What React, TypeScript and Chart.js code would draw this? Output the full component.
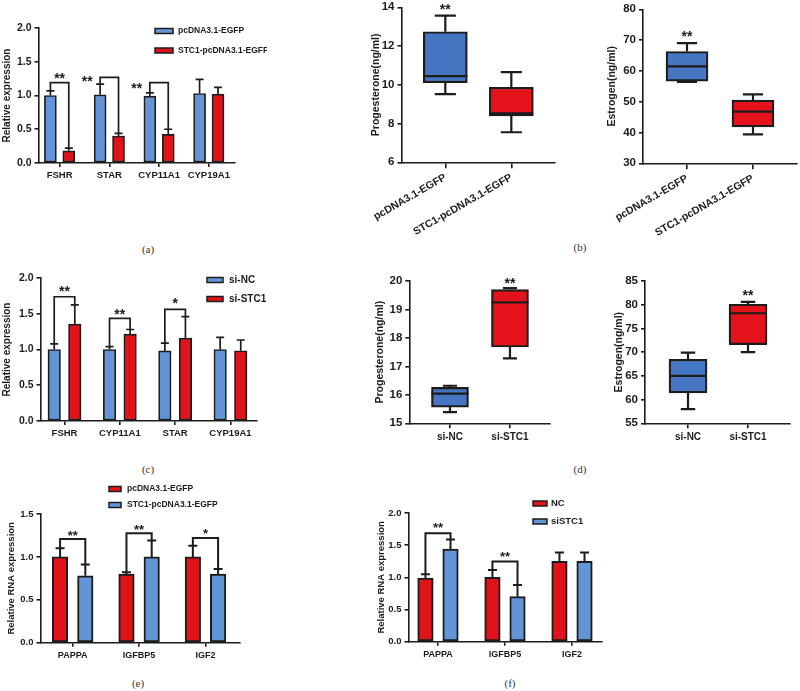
import React, { useEffect, useMemo, useRef } from "react";
import { Chart, registerables } from "chart.js";

Chart.register(...registerables);

/* ---------------- data ---------------- */

// (a) qPCR after STC1 overexpression
const aGenes = ["FSHR", "STAR", "CYP11A1", "CYP19A1"];
const aGroups = ["pcDNA3.1-EGFP", "STC1-pcDNA3.1-EGFP"];
const aControlMean = [1.0, 1.01, 0.99, 1.03];
const aControlErr = [0.07, 0.16, 0.05, 0.21];
const aStc1Mean = [0.18, 0.4, 0.425, 1.02];
const aStc1Err = [0.04, 0.04, 0.075, 0.1];
const aYTicks = [0, 0.5, 1.0, 1.5, 2.0];
const aSig = [
  { cat: 0, level: 1.19, text: "**", tx: 0, ty: 1.3 },
  { cat: 1, level: 1.27, text: "**", tx: -0.444, ty: 1.255 },
  { cat: 2, level: 1.19, text: "**", tx: -0.45, ty: 1.156 },
];

// (b) hormone levels after STC1 overexpression (box plots)
const bGroups = ["pcDNA3.1-EGFP", "STC1-pcDNA3.1-EGFP"];
const bProgMin = [9.52, 7.55];
const bProgQ1 = [10.11, 8.39];
const bProgMedian = [10.45, 8.53];
const bProgQ3 = [12.74, 9.87];
const bProgMax = [13.57, 10.65];
const bProgTicks = [6, 8, 10, 12, 14];
const bProgStars = [{ cat: 1, text: "**", ty: 14.05 }];
const bEstMin = [56.4, 39.4];
const bEstQ1 = [56.7, 41.8];
const bEstMedian = [61.5, 46.8];
const bEstQ3 = [66.3, 50.5];
const bEstMax = [69.0, 52.4];
const bEstTicks = [30, 40, 50, 60, 70, 80];
const bEstStars = [{ cat: 1, text: "**", ty: 72.5 }];

// (c) qPCR after STC1 knockdown
const cGenes = ["FSHR", "CYP11A1", "STAR", "CYP19A1"];
const cGroups = ["si-NC", "si-STC1"];
const cNcMean = [1.0, 1.0, 0.98, 1.0];
const cNcErr = [0.08, 0.04, 0.11, 0.17];
const cSiMean = [1.355, 1.215, 1.16, 0.983];
const cSiErr = [0.27, 0.065, 0.3, 0.15];
const cYTicks = [0, 0.5, 1.0, 1.5, 2.0];
const cSig = [
  { cat: 0, level: 1.738, text: "**", tx: 0, ty: 1.855 },
  { cat: 1, level: 1.436, text: "**", tx: 0, ty: 1.538 },
  { cat: 2, level: 1.562, text: "*", tx: 0, ty: 1.69 },
];

// (d) hormone levels after STC1 knockdown (box plots)
const dGroups = ["si-NC", "si-STC1"];
const dProgMin = [15.39, 17.28];
const dProgQ1 = [15.57, 17.68];
const dProgMedian = [16.04, 19.25];
const dProgQ3 = [16.26, 19.7];
const dProgMax = [16.32, 19.75];
const dProgTicks = [15, 16, 17, 18, 19, 20];
const dProgStars = [{ cat: 2, text: "**", ty: 20.05 }];
const dEstMin = [58.0, 70.0];
const dEstQ1 = [61.4, 71.6];
const dEstMedian = [65.0, 78.2];
const dEstQ3 = [68.5, 80.1];
const dEstMax = [69.9, 80.6];
const dEstTicks = [55, 60, 65, 70, 75, 80, 85];
const dEstStars = [{ cat: 2, text: "**", ty: 82.8 }];

// (e) IGF axis genes after STC1 overexpression
const eGenes = ["PAPPA", "IGFBP5", "IGF2"];
const eGroups = ["pcDNA3.1-EGFP", "STC1-pcDNA3.1-EGFP"];
const eControlMean = [1.0, 0.8, 1.0];
const eControlErr = [0.1, 0.02, 0.13];
const eStc1Mean = [0.78, 1.0, 0.8];
const eStc1Err = [0.13, 0.19, 0.06];
const eYTicks = [0, 0.5, 1.0, 1.5];
const eSig = [
  { cat: 0, level: 1.21, text: "**", tx: 0, ty: 1.29 },
  { cat: 1, level: 1.275, text: "**", tx: 0, ty: 1.36 },
  { cat: 2, level: 1.22, text: "*", tx: 0, ty: 1.31 },
];

// (f) IGF axis genes after STC1 knockdown
const fGenes = ["PAPPA", "IGFBP5", "IGF2"];
const fGroups = ["NC", "siSTC1"];
const fNcMean = [0.99, 1.0, 1.25];
const fNcErr = [0.06, 0.115, 0.135];
const fSiMean = [1.44, 0.7, 1.25];
const fSiErr = [0.15, 0.18, 0.135];
const fYTicks = [0, 0.5, 1.0, 1.5, 2.0];
const fSig = [
  { cat: 0, level: 1.685, text: "**", tx: 0, ty: 1.815 },
  { cat: 1, level: 1.245, text: "**", tx: 0, ty: 1.375 },
];

/* ---------------- styles ---------------- */

const FONT = "'Liberation Sans', Arial, Helvetica, sans-serif";
const SERIF = "'Liberation Serif', 'Times New Roman', serif";
const INK = "#1c1c1c";
const LIGHT_BLUE = "#6394d6";
const RED = "#e0131b";
const BOX_BLUE = "#4676c2";
const BOX_RED = "#e3121b";

type Geo = {
  titleX: number; axisX: number; top: number; bottom: number; right: number;
  xh: number; titleSize: number; padTop: number; padRight: number;
};
type Frame = {
  L: number; T: number; W: number; H: number; padLeft: number; padTop: number;
  padRight: number; yw: number; xh: number;
};

function makeFrame(g: Geo): Frame {
  const lh = g.titleSize * 1.2;
  const left = g.titleX - lh / 2;
  const L = Math.floor(left - 1);
  const T = Math.floor(g.top - g.padTop);
  const W = Math.ceil(g.right + g.padRight - L);
  const H = Math.ceil(g.bottom + g.xh - T);
  return {
    L, T, W, H,
    padLeft: left - L,
    padTop: g.top - T,
    padRight: L + W - g.right,
    yw: g.axisX - left,
    xh: T + H - g.bottom,
  };
}

const bold = (size: number) => ({ family: FONT, size, weight: "bold" as const });

function zeroPad(s: any) {
  s.paddingLeft = 0; s.paddingRight = 0; s.paddingTop = 0; s.paddingBottom = 0;
}

function baseOptions(
  f: Frame, g: Geo,
  y: { ticks: number[]; title: string; size: number; decimals: number },
  x: { min: number; max: number; positions: number[]; labels: string[]; size: number; rotation: number; tickLength: number }
) {
  return {
    responsive: false,
    animation: false,
    devicePixelRatio: 1,
    layout: { padding: { left: f.padLeft, top: f.padTop, right: f.padRight, bottom: 0 } },
    plugins: { legend: { display: false }, tooltip: { enabled: false }, title: { display: false } },
    scales: {
      x: {
        type: "linear", min: x.min, max: x.max, offset: false, bounds: "data",
        afterBuildTicks: (s: any) => { s.ticks = x.positions.map((v) => ({ value: v })); },
        ticks: {
          autoSkip: false, minRotation: x.rotation, maxRotation: x.rotation, padding: 3, color: INK,
          font: bold(x.size),
          callback: (_v: any, i: number) => x.labels[i],
        },
        grid: { drawOnChartArea: false, drawTicks: true, tickLength: x.tickLength, color: INK, lineWidth: 1.6, offset: false },
        border: { display: true, color: INK, width: 1.6 },
        afterFit: (s: any) => { s.height = f.xh; zeroPad(s); },
      },
      y: {
        type: "linear", min: y.ticks[0], max: y.ticks[y.ticks.length - 1],
        afterBuildTicks: (s: any) => { s.ticks = y.ticks.map((v) => ({ value: v })); },
        ticks: { padding: 3, color: INK, font: bold(y.size), callback: (v: any) => Number(v).toFixed(y.decimals) },
        grid: { drawOnChartArea: false, drawTicks: true, tickLength: 4, color: INK, lineWidth: 1.6 },
        border: { display: true, color: INK, width: 1.6 },
        title: { display: true, text: y.title, color: INK, font: bold(g.titleSize), padding: 0 },
        afterFit: (s: any) => { s.width = f.yw; zeroPad(s); },
      },
    },
  };
}

type Sig = { cat: number; level: number; text: string; tx: number; ty: number };
type BarSpec = {
  cats: string[]; names: string[]; means: number[][]; errs: number[][]; colors: string[];
  yTicks: number[]; yTitle: string; sig: Sig[];
  geo: Geo; xMin: number; xMax: number; offsets: number[]; barW: number; capW: number; line: number;
  font: { tick: number; cat: number; legend: number; star: number };
  legend: { x: number; w: number; h: number; rows: number[]; textX: number };
};

function drawStar(ctx: any, text: string, x: number, y: number, size: number) {
  ctx.fillStyle = INK;
  ctx.font = `bold ${size}px ${FONT}`;
  ctx.textAlign = "center";
  ctx.textBaseline = "alphabetic";
  ctx.fillText(text, x, y + 0.58 * size);
}

function buildBar(p: BarSpec) {
  const f = makeFrame(p.geo);
  const plugin = {
    id: "barExtras",
    afterDatasetsDraw(chart: any) {
      const ctx = chart.ctx;
      const xs = chart.scales.x;
      const ys = chart.scales.y;
      const px = (si: number, i: number) => xs.getPixelForValue(i + p.offsets[si]);
      const top = (si: number, i: number) => ys.getPixelForValue(p.means[si][i] + p.errs[si][i]);
      ctx.save();
      ctx.strokeStyle = INK;
      ctx.lineWidth = p.line;
      p.means.forEach((m, si) =>
        m.forEach((v, i) => {
          const x = px(si, i);
          const y0 = ys.getPixelForValue(v);
          const y1 = top(si, i);
          ctx.beginPath();
          ctx.moveTo(x, y0); ctx.lineTo(x, y1);
          ctx.moveTo(x - p.capW / 2, y1); ctx.lineTo(x + p.capW / 2, y1);
          ctx.stroke();
        })
      );
      p.sig.forEach((s) => {
        const x1 = px(0, s.cat);
        const x2 = px(1, s.cat);
        const yl = ys.getPixelForValue(s.level);
        ctx.beginPath();
        ctx.moveTo(x1, top(0, s.cat)); ctx.lineTo(x1, yl); ctx.lineTo(x2, yl); ctx.lineTo(x2, top(1, s.cat));
        ctx.stroke();
        drawStar(ctx, s.text, xs.getPixelForValue(s.cat + s.tx), ys.getPixelForValue(s.ty), p.font.star);
      });
      // legend
      ctx.translate(-f.L, -f.T);
      p.names.forEach((n, si) => {
        const ry = p.legend.rows[si];
        ctx.fillStyle = p.colors[si];
        ctx.fillRect(p.legend.x, ry - p.legend.h / 2, p.legend.w, p.legend.h);
        ctx.lineWidth = 1.5;
        ctx.strokeRect(p.legend.x, ry - p.legend.h / 2, p.legend.w, p.legend.h);
        ctx.fillStyle = INK;
        ctx.font = `bold ${p.font.legend}px ${FONT}`;
        ctx.textAlign = "left";
        ctx.textBaseline = "middle";
        ctx.fillText(n, p.legend.textX, ry);
      });
      ctx.restore();
    },
  };
  const config = {
    type: "bar",
    data: {
      datasets: p.names.map((n, si) => ({
        label: n,
        data: p.cats.map((_, i) => ({ x: i + p.offsets[si], y: p.means[si][i] })),
        backgroundColor: p.colors[si],
        borderColor: INK,
        borderWidth: p.line,
        borderSkipped: false,
        barThickness: p.barW,
        grouped: false,
      })),
    },
    options: baseOptions(
      f, p.geo,
      { ticks: p.yTicks, title: p.yTitle, size: p.font.tick, decimals: 1 },
      { min: p.xMin, max: p.xMax, positions: p.cats.map((_, i) => i), labels: p.cats, size: p.font.cat, rotation: 0, tickLength: 4 }
    ),
    plugins: [plugin],
  };
  return { f, config };
}

type BoxSpec = {
  cats: string[]; min: number[]; q1: number[]; median: number[]; q3: number[]; max: number[]; colors: string[];
  yTicks: number[]; yTitle: string; stars: { cat: number; text: string; ty: number }[];
  geo: Geo; xMin: number; xMax: number; boxW: number; capFrac: number; rotation: number; xTickLen: number;
  font: { tick: number; cat: number; star: number };
};

function buildBox(p: BoxSpec) {
  const f = makeFrame(p.geo);
  const plugin = {
    id: "boxExtras",
    afterDatasetsDraw(chart: any) {
      const ctx = chart.ctx;
      const xs = chart.scales.x;
      const ys = chart.scales.y;
      ctx.save();
      ctx.strokeStyle = INK;
      ctx.lineWidth = 2.2;
      p.cats.forEach((_, i) => {
        const x = xs.getPixelForValue(i + 1);
        const cap = (p.boxW * p.capFrac) / 2;
        const yMax = ys.getPixelForValue(p.max[i]);
        const yMin = ys.getPixelForValue(p.min[i]);
        const yQ3 = ys.getPixelForValue(p.q3[i]);
        const yQ1 = ys.getPixelForValue(p.q1[i]);
        const yMed = ys.getPixelForValue(p.median[i]);
        ctx.beginPath();
        ctx.moveTo(x, yQ3); ctx.lineTo(x, yMax);
        ctx.moveTo(x - cap, yMax); ctx.lineTo(x + cap, yMax);
        ctx.moveTo(x, yQ1); ctx.lineTo(x, yMin);
        ctx.moveTo(x - cap, yMin); ctx.lineTo(x + cap, yMin);
        ctx.moveTo(x - p.boxW / 2, yMed); ctx.lineTo(x + p.boxW / 2, yMed);
        ctx.stroke();
      });
      p.stars.forEach((s) => drawStar(ctx, s.text, xs.getPixelForValue(s.cat), ys.getPixelForValue(s.ty), p.font.star));
      ctx.restore();
    },
  };
  const config = {
    type: "bar",
    data: {
      datasets: [
        {
          label: p.yTitle,
          data: p.cats.map((_, i) => ({ x: i + 1, y: [p.q1[i], p.q3[i]] })),
          backgroundColor: p.colors,
          borderColor: INK,
          borderWidth: 2.2,
          borderSkipped: false,
          barThickness: p.boxW,
          grouped: false,
        },
      ],
    },
    options: baseOptions(
      f, p.geo,
      { ticks: p.yTicks, title: p.yTitle, size: p.font.tick, decimals: 0 },
      { min: p.xMin, max: p.xMax, positions: p.cats.map((_, i) => i + 1), labels: p.cats, size: p.font.cat, rotation: p.rotation, tickLength: p.xTickLen }
    ),
    plugins: [plugin],
  };
  return { f, config };
}

/* ---------------- panel specs ---------------- */

const panels = [
  () => buildBar({
    cats: aGenes, names: aGroups, means: [aControlMean, aStc1Mean], errs: [aControlErr, aStc1Err],
    colors: [LIGHT_BLUE, RED], yTicks: aYTicks, yTitle: "Relative expression", sig: aSig,
    geo: { titleX: 7.5, axisX: 38.5, top: 28, bottom: 163, right: 235, xh: 24, titleSize: 10, padTop: 12, padRight: 32 },
    xMin: -0.424, xMax: 3.527, offsets: [-0.185, 0.185], barW: 12, capW: 8, line: 1.7,
    font: { tick: 10.5, cat: 9.5, legend: 8.5, star: 14 },
    legend: { x: 155, w: 18, h: 5, rows: [31, 50.5], textX: 178 },
  }),
  () => buildBox({
    cats: bGroups, min: bProgMin, q1: bProgQ1, median: bProgMedian, q3: bProgQ3, max: bProgMax,
    colors: [BOX_BLUE, BOX_RED], yTicks: bProgTicks, yTitle: "Progesterone(ng/ml)", stars: bProgStars,
    geo: { titleX: 376, axisX: 401.5, top: 7.3, bottom: 162.3, right: 555, xh: 100, titleSize: 10.5, padTop: 10, padRight: 6 },
    xMin: 0.336, xMax: 2.662, boxW: 44, capFrac: 0.48, rotation: 30, xTickLen: 6,
    font: { tick: 11.5, cat: 10.5, star: 14 },
  }),
  () => buildBox({
    cats: bGroups, min: bEstMin, q1: bEstQ1, median: bEstMedian, q3: bEstQ3, max: bEstMax,
    colors: [BOX_BLUE, BOX_RED], yTicks: bEstTicks, yTitle: "Estrogen(ng/ml)", stars: bEstStars,
    geo: { titleX: 612, axisX: 643, top: 9.3, bottom: 163.3, right: 797, xh: 100, titleSize: 10.5, padTop: 10, padRight: 3 },
    xMin: 0.333, xMax: 2.667, boxW: 42, capFrac: 0.48, rotation: 30, xTickLen: 6,
    font: { tick: 11.5, cat: 10.5, star: 14 },
  }),
  () => buildBar({
    cats: cGenes, names: cGroups, means: [cNcMean, cSiMean], errs: [cNcErr, cSiErr],
    colors: [LIGHT_BLUE, RED], yTicks: cYTicks, yTitle: "Relative expression", sig: cSig,
    geo: { titleX: 7.5, axisX: 40.5, top: 278, bottom: 421, right: 257, xh: 24, titleSize: 10, padTop: 12, padRight: 18 },
    xMin: -0.434, xMax: 3.48, offsets: [-0.186, 0.186], barW: 12.5, capW: 8, line: 1.7,
    font: { tick: 10.5, cat: 9.5, legend: 10, star: 14 },
    legend: { x: 207, w: 16, h: 5, rows: [280, 299], textX: 229 },
  }),
  () => buildBox({
    cats: dGroups, min: dProgMin, q1: dProgQ1, median: dProgMedian, q3: dProgQ3, max: dProgMax,
    colors: [BOX_BLUE, BOX_RED], yTicks: dProgTicks, yTitle: "Progesterone(ng/ml)", stars: dProgStars,
    geo: { titleX: 380, axisX: 409.3, top: 281, bottom: 423.3, right: 550, xh: 30, titleSize: 10.5, padTop: 12, padRight: 6 },
    xMin: 0.322, xMax: 2.667, boxW: 37, capFrac: 0.38, rotation: 0, xTickLen: 5,
    font: { tick: 11.5, cat: 10, star: 14 },
  }),
  () => buildBox({
    cats: dGroups, min: dEstMin, q1: dEstQ1, median: dEstMedian, q3: dEstQ3, max: dEstMax,
    colors: [BOX_BLUE, BOX_RED], yTicks: dEstTicks, yTitle: "Estrogen(ng/ml)", stars: dEstStars,
    geo: { titleX: 619, axisX: 645, top: 281, bottom: 423.3, right: 790, xh: 30, titleSize: 10.5, padTop: 12, padRight: 6 },
    xMin: 0.283, xMax: 2.7, boxW: 38, capFrac: 0.38, rotation: 0, xTickLen: 5,
    font: { tick: 11.5, cat: 10, star: 14 },
  }),
  () => buildBar({
    cats: eGenes, names: eGroups, means: [eControlMean, eStc1Mean], errs: [eControlErr, eStc1Err],
    colors: [RED, LIGHT_BLUE], yTicks: eYTicks, yTitle: "Relative RNA expression", sig: eSig,
    geo: { titleX: 11.5, axisX: 40.5, top: 514, bottom: 642.7, right: 240, xh: 22, titleSize: 9.5, padTop: 32, padRight: 6 },
    xMin: -0.485, xMax: 2.52, offsets: [-0.19, 0.19], barW: 15.5, capW: 9, line: 2,
    font: { tick: 9.5, cat: 9, legend: 8.5, star: 13 },
    legend: { x: 109, w: 12, h: 5, rows: [489, 505], textX: 127 },
  }),
  () => buildBar({
    cats: fGenes, names: fGroups, means: [fNcMean, fSiMean], errs: [fNcErr, fSiErr],
    colors: [RED, LIGHT_BLUE], yTicks: fYTicks, yTitle: "Relative RNA expression", sig: fSig,
    geo: { titleX: 381, axisX: 408.5, top: 513, bottom: 641.7, right: 602, xh: 22, titleSize: 9.5, padTop: 20, padRight: 6 },
    xMin: -0.44, xMax: 2.448, offsets: [-0.187, 0.187], barW: 15.5, capW: 9, line: 2,
    font: { tick: 9.5, cat: 9, legend: 9.5, star: 13 },
    legend: { x: 533, w: 14, h: 5, rows: [503.5, 521.5], textX: 551 },
  }),
];

const captions = [
  { text: "(a)", x: 148, y: 249 },
  { text: "(b)", x: 580, y: 247 },
  { text: "(c)", x: 148, y: 469 },
  { text: "(d)", x: 580, y: 469 },
  { text: "(e)", x: 138, y: 683 },
  { text: "(f)", x: 510, y: 683 },
];

/* ---------------- components ---------------- */

function PanelChart({ make }: { make: () => { f: Frame; config: any } }) {
  const ref = useRef<HTMLCanvasElement>(null);
  const built = useMemo(make, [make]);
  useEffect(() => {
    if (!ref.current) return;
    const chart = new Chart(ref.current, built.config);
    return () => chart.destroy();
  }, [built]);
  const f = built.f;
  return (
    <canvas
      ref={ref}
      width={f.W}
      height={f.H}
      style={{ position: "absolute", left: f.L, top: f.T, width: f.W, height: f.H }}
    />
  );
}

export default function App() {
  return (
    <div style={{ position: "absolute", left: 0, top: 0, width: 800, height: 691, background: "#fff", overflow: "hidden" }}>
      {panels.map((m, i) => (
        <PanelChart key={i} make={m} />
      ))}
      {captions.map((c) => (
        <div
          key={c.text}
          style={{
            position: "absolute", left: c.x, top: c.y, transform: "translate(-50%, -50%)",
            fontFamily: SERIF, fontSize: 11, color: "#333", lineHeight: 1,
          }}
        >
          {c.text}
        </div>
      ))}
    </div>
  );
}
